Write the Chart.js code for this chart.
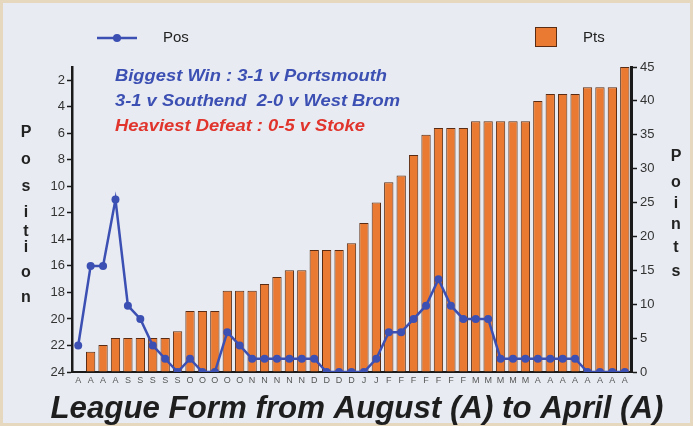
<!DOCTYPE html>
<html>
<head>
<meta charset="utf-8">
<script src="https://cdn.jsdelivr.net/npm/chart.js@4.4.1/dist/chart.umd.min.js"></script>
<style>
  html, body { margin: 0; padding: 0; background: #e9edf1; }
  #wrap { width: 693px; height: 426px; }
</style>
</head>
<body>
<div id="wrap"><canvas id="chart" width="693" height="426"></canvas></div>
<script>
// month of each game, Aug -> Apr
var months = ['A','A','A','A','S','S','S','S','S','O','O','O','O','O','N','N','N','N','N',
              'D','D','D','D','J','J','F','F','F','F','F','F','F','M','M','M','M','M',
              'A','A','A','A','A','A','A','A'];
// league position after each game
var position = [22,16,16,11,19,20,22,23,24,23,24,24,21,22,23,23,23,23,23,23,24,24,24,24,
                23,21,21,20,19,17,19,20,20,20,23,23,23,23,23,23,23,24,24,24,24];
// cumulative points
var points = [0,3,4,5,5,5,5,5,6,9,9,9,12,12,12,13,14,15,15,18,18,18,19,22,25,28,29,32,35,
              36,36,36,37,37,37,37,37,40,41,41,41,42,42,42,45];
var posTicks = [2,4,6,8,10,12,14,16,18,20,22,24];
var ptsTicks = [0,5,10,15,20,25,30,35,40,45];

var notes = ['Biggest Win : 3-1 v Portsmouth', '3-1 v Southend  2-0 v West Brom', 'Heaviest Defeat : 0-5 v Stoke'];
var title = 'League Form from August (A) to April (A)';

var blue = '#3c4fb3', orange = '#ea7a31', barEdge = '#5a2c14', ink = '#222';
var font = '"Liberation Sans", Arial, sans-serif';

// draw text squeezed/stretched to a given width
function fitText(c, txt, x, y, width){
  var w = c.measureText(txt).width;
  c.save();
  c.translate(x, y);
  c.scale(width / w, 1);
  c.fillText(txt, 0, 0);
  c.restore();
}

var decor = {
  id: 'decor',
  beforeDraw: function(chart){
    var c = chart.ctx;
    c.save();
    c.fillStyle = '#e8ecf2';
    c.fillRect(0, 0, chart.width, chart.height);
    c.strokeStyle = '#e6d7bf';
    c.lineWidth = 6;
    c.strokeRect(0, 0, chart.width, chart.height);
    c.restore();
  },
  afterDraw: function(chart){
    var c = chart.ctx;
    c.save();
    // legend
    c.strokeStyle = blue; c.lineWidth = 2.5;
    c.beginPath(); c.moveTo(97, 38); c.lineTo(137, 38); c.stroke();
    c.fillStyle = blue;
    c.beginPath(); c.arc(117, 38, 4, 0, Math.PI * 2); c.fill();
    c.fillStyle = orange; c.fillRect(535, 27, 22, 20);
    c.strokeStyle = barEdge; c.lineWidth = 1; c.strokeRect(535.5, 27.5, 21, 19);
    c.fillStyle = ink; c.font = '15px ' + font; c.textBaseline = 'middle';
    c.fillText('Pos', 163, 38);
    c.fillText('Pts', 583, 38);

    // notes
    c.font = 'italic bold 17px ' + font;
    c.fillStyle = blue;
    fitText(c, notes[0], 115, 76, 272);
    fitText(c, notes[1], 115, 101, 285);
    c.fillStyle = '#e0342c';
    fitText(c, notes[2], 115, 126, 250);

    // axis titles, stacked letters
    c.fillStyle = ink; c.font = 'bold 16px ' + font; c.textAlign = 'center';
    var lp = 'Position', ly = [133,160,187,213,232,248,273,298];
    for (var i = 0; i < lp.length; i++) c.fillText(lp[i], 26, ly[i]);
    var rp = 'Points', ry = [157,183,204,225,248,272];
    for (var j = 0; j < rp.length; j++) c.fillText(rp[j], 676, ry[j]);

    // bottom title
    c.font = 'italic bold 29px ' + font;
    var w = c.measureText(title).width, sx = 613 / w;
    c.translate(357, 410);
    c.scale(sx, 1.05);
    c.fillStyle = '#1e1e1e';
    c.fillText(title, 0, 0);
    c.restore();
  }
};

new Chart(document.getElementById('chart'), {
  data: {
    labels: months,
    datasets: [
      {
        type: 'line', label: 'Pos', data: position, yAxisID: 'yPos', order: 0,
        borderColor: blue, backgroundColor: blue, borderWidth: 2.5,
        pointRadius: 4, pointBackgroundColor: blue, pointBorderWidth: 0, tension: 0
      },
      {
        type: 'bar', label: 'Pts', data: points, yAxisID: 'yPts', order: 1,
        backgroundColor: orange, borderColor: barEdge, borderWidth: 1,
        barPercentage: 0.75, categoryPercentage: 1
      }
    ]
  },
  options: {
    responsive: false,
    animation: false,
    layout: { padding: { left: 42, right: 32, top: 67, bottom: 40 } },
    plugins: { legend: { display: false }, tooltip: { enabled: false } },
    scales: {
      x: {
        offset: true,
        grid: { display: false, drawTicks: false },
        border: { color: '#1a1a1a', width: 2 },
        ticks: { color: '#555', font: { family: font, size: 9 }, padding: 3, autoSkip: false, maxRotation: 0 },
        afterFit: function(s){ s.height = 14; }
      },
      yPos: {
        position: 'left', reverse: true, min: 1, max: 24,
        afterBuildTicks: function(s){ s.ticks = posTicks.map(function(v){ return { value: v }; }); },
        grid: { drawOnChartArea: false, tickLength: 5, color: '#1a1a1a', tickWidth: 1.5 },
        border: { color: '#1a1a1a', width: 2.5 },
        ticks: { color: '#333', font: { family: font, size: 13 }, padding: 2 },
        afterFit: function(s){ s.width = 30; }
      },
      yPts: {
        position: 'right', min: 0, max: 45,
        afterBuildTicks: function(s){ s.ticks = ptsTicks.map(function(v){ return { value: v }; }); },
        grid: { drawOnChartArea: false, tickLength: 6, color: '#1a1a1a', tickWidth: 1.5 },
        border: { color: '#1a1a1a', width: 3 },
        ticks: { color: '#333', font: { family: font, size: 13 }, padding: 3 },
        afterFit: function(s){ s.width = 30; }
      }
    }
  },
  plugins: [decor]
});
</script>
</body>
</html>
